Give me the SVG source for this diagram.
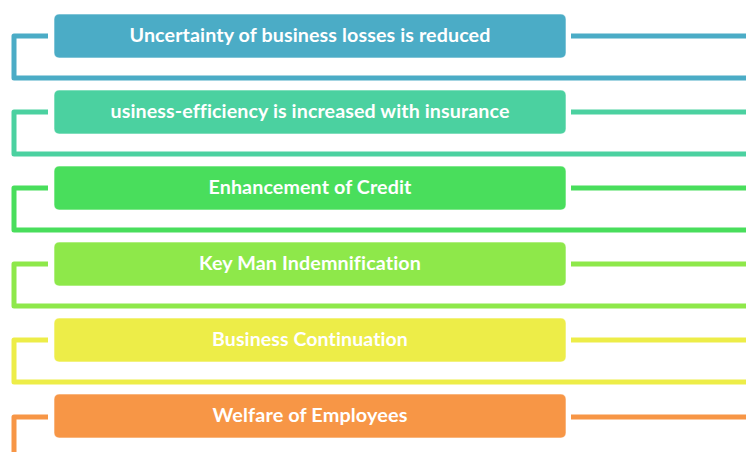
<svg xmlns="http://www.w3.org/2000/svg" width="746" height="452" viewBox="0 0 746 452">
<style>
.box{stroke:#ffffff;stroke-opacity:0.6;stroke-width:1}
.lbl{font-family:Lato,"Open Sans","Liberation Sans",sans-serif;font-weight:bold;font-size:18px;fill:#ffffff;text-anchor:middle;font-variant-ligatures:none;font-feature-settings:"liga" 0,"clig" 0,"dlig" 0;letter-spacing:0.1px}
.ln{fill:none;stroke-width:5;stroke-linejoin:round}
.c1{fill:#4BACC6}.s1{stroke:#4BACC6}
.c2{fill:#4BD1A0}.s2{stroke:#4BD1A0}
.c3{fill:#49DE5C}.s3{stroke:#49DE5C}
.c4{fill:#8EE84A}.s4{stroke:#8EE84A}
.c5{fill:#EDED48}.s5{stroke:#EDED48}
.c6{fill:#F79646}.s6{stroke:#F79646}
</style>
<rect width="746" height="452" fill="#ffffff"/>
<g id="connectors">
<path class="ln s1" d="M48,36 H14 V78 H746"/>
<path class="ln s1" d="M571,36 H746"/>
<path class="ln s2" d="M48,112 H14 V154 H746"/>
<path class="ln s2" d="M571,112 H746"/>
<path class="ln s3" d="M48,188 H14 V230 H746"/>
<path class="ln s3" d="M571,188 H746"/>
<path class="ln s4" d="M48,264 H14 V306 H746"/>
<path class="ln s4" d="M571,264 H746"/>
<path class="ln s5" d="M48,340 H14 V382 H746"/>
<path class="ln s5" d="M571,340 H746"/>
<path class="ln s6" d="M48,417 H14 V454"/>
<path class="ln s6" d="M571,417 H746"/>
</g>
<g id="node1">
<rect class="box c1" x="54" y="14" width="512" height="44" rx="5"/>
<text class="lbl" x="310" y="42" textLength="361" lengthAdjust="spacingAndGlyphs">Uncertainty of business losses is reduced</text>
</g>
<g id="node2">
<rect class="box c2" x="54" y="90" width="512" height="44" rx="5"/>
<text class="lbl" x="310" y="118" textLength="399" lengthAdjust="spacingAndGlyphs">usiness-efficiency is increased with insurance</text>
</g>
<g id="node3">
<rect class="box c3" x="54" y="166" width="512" height="44" rx="5"/>
<text class="lbl" x="310" y="194" textLength="203" lengthAdjust="spacingAndGlyphs">Enhancement of Credit</text>
</g>
<g id="node4">
<rect class="box c4" x="54" y="242" width="512" height="44" rx="5"/>
<text class="lbl" x="310" y="270" textLength="222" lengthAdjust="spacingAndGlyphs">Key Man Indemnification</text>
</g>
<g id="node5">
<rect class="box c5" x="54" y="318" width="512" height="44" rx="5"/>
<text class="lbl" x="310" y="346" textLength="196" lengthAdjust="spacingAndGlyphs">Business Continuation</text>
</g>
<g id="node6">
<rect class="box c6" x="54" y="394" width="512" height="44" rx="5"/>
<text class="lbl" x="310" y="422" textLength="195" lengthAdjust="spacingAndGlyphs">Welfare of Employees</text>
</g>
</svg>
